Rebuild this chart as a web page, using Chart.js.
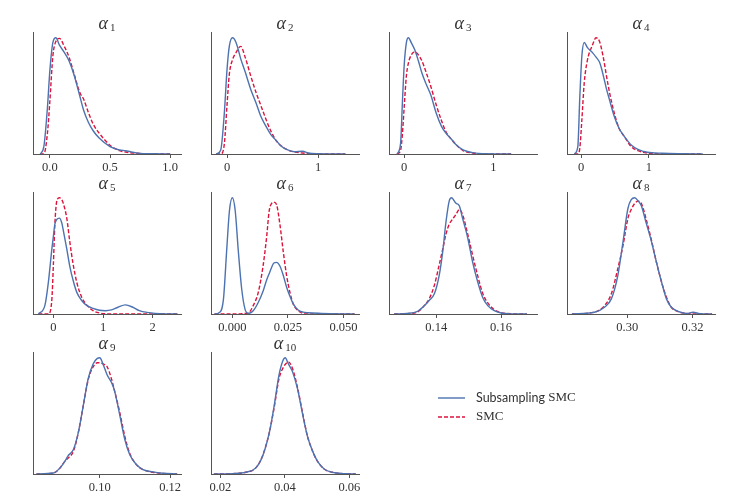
<!DOCTYPE html>
<html>
<head>
<meta charset="utf-8">
<script src="https://cdn.jsdelivr.net/npm/chart.js@4.4.1/dist/chart.umd.min.js"></script>
<style>
  html, body { margin: 0; padding: 0; background: #fff; }
  #fig { position: relative; width: 748px; height: 501px; overflow: hidden; }
  #fig canvas { position: absolute; }
</style>
</head>
<body>
<div id="fig"></div>
<script>
// subscripts of the alpha titles
const subscripts = ['1', '2', '3', '4', '5', '6', '7', '8', '9', '10'];

// x-axis limits per panel
const xLimits = [
  [-0.14, 1.09], [-0.176, 1.45], [-0.17, 1.49], [-0.21, 1.98], [-0.41, 2.57],
  [-0.0096, 0.057], [0.1254, 0.1711], [0.2815, 0.3269], [0.081, 0.1231], [0.0171, 0.063]
];

// tick labels per panel
const tickLabels = [
  ['0.0', '0.5', '1.0'], ['0', '1'], ['0', '1'], ['0', '1'], ['0', '1', '2'],
  ['0.000', '0.025', '0.050'], ['0.14', '0.16'], ['0.30', '0.32'], ['0.10', '0.12'], ['0.02', '0.04', '0.06']
];

// x grid where the density curves were read
const xGrid = [
  [-0.08, -0.05, -0.02, 0.0, 0.025, 0.05, 0.08, 0.12, 0.16, 0.2, 0.25, 0.28, 0.32, 0.36, 0.41, 0.5, 0.58, 0.63, 0.67, 0.75, 0.85, 1.0],
  [-0.12, -0.07, -0.03, 0, 0.025, 0.06, 0.1, 0.15, 0.2, 0.26, 0.32, 0.37, 0.43, 0.48, 0.54, 0.59, 0.66, 0.74, 0.83, 0.89, 1.0, 1.3],
  [-0.08, -0.04, -0.02, 0, 0.025, 0.048, 0.08, 0.12, 0.16, 0.2, 0.25, 0.3, 0.36, 0.42, 0.47, 0.53, 0.58, 0.66, 0.77, 0.92, 1.2],
  [-0.1, -0.05, -0.02, 0.01, 0.045, 0.09, 0.17, 0.22, 0.27, 0.3, 0.34, 0.37, 0.42, 0.49, 0.56, 0.64, 0.74, 0.84, 0.98, 1.2, 1.5, 1.8],
  [-0.3, -0.17, -0.1, -0.03, 0, 0.03, 0.07, 0.12, 0.17, 0.2, 0.27, 0.33, 0.4, 0.47, 0.57, 0.67, 0.8, 0.93, 1.05, 1.17, 1.3, 1.45, 1.6, 1.73, 1.93, 2.15, 2.5],
  [-0.008, -0.006, -0.004, -0.0025, -0.0013, 0, 0.0013, 0.0027, 0.0042, 0.0057, 0.0072, 0.0094, 0.0117, 0.0139, 0.0154, 0.0166, 0.0177, 0.0187, 0.0199, 0.0214, 0.0229, 0.0244, 0.0259, 0.0274, 0.0296, 0.0319, 0.034, 0.04, 0.055],
  [0.127, 0.131, 0.134, 0.1363, 0.1378, 0.1394, 0.1409, 0.142, 0.143, 0.144, 0.1447, 0.1461, 0.1471, 0.1481, 0.1497, 0.1512, 0.1528, 0.1543, 0.1559, 0.1579, 0.16, 0.163, 0.168],
  [0.283, 0.2899, 0.293, 0.2951, 0.2971, 0.2987, 0.3002, 0.3012, 0.3023, 0.3033, 0.3043, 0.3058, 0.3074, 0.3089, 0.3105, 0.312, 0.3135, 0.3156, 0.3182, 0.3202, 0.3223, 0.326],
  [0.082, 0.0868, 0.0887, 0.0901, 0.091, 0.0925, 0.0939, 0.0953, 0.0967, 0.0981, 0.0993, 0.1, 0.1009, 0.1021, 0.1033, 0.1042, 0.1057, 0.1071, 0.1085, 0.1104, 0.1123, 0.1151, 0.1179, 0.122],
  [0.018, 0.0238, 0.0279, 0.031, 0.0331, 0.0352, 0.0367, 0.0382, 0.0393, 0.0401, 0.0411, 0.0424, 0.0439, 0.0455, 0.047, 0.0486, 0.0501, 0.0522, 0.0547, 0.0589, 0.062]
];

// Subsampling SMC densities (relative height)
const subsampling = [
  [0, 0.06, 0.38, 0.68, 0.91, 0.95, 0.89, 0.83, 0.76, 0.65, 0.47, 0.36, 0.26, 0.19, 0.13, 0.06, 0.033, 0.027, 0.018, 0.005, 0.002, 0],
  [0, 0.03, 0.33, 0.69, 0.88, 0.95, 0.91, 0.78, 0.67, 0.53, 0.415, 0.31, 0.224, 0.16, 0.11, 0.068, 0.035, 0.019, 0.022, 0.008, 0.002, 0],
  [0, 0.087, 0.415, 0.72, 0.91, 0.95, 0.91, 0.85, 0.76, 0.66, 0.566, 0.48, 0.333, 0.224, 0.17, 0.12, 0.077, 0.033, 0.011, 0.002, 0],
  [0, 0.06, 0.47, 0.80, 0.91, 0.87, 0.825, 0.79, 0.75, 0.70, 0.61, 0.54, 0.44, 0.306, 0.21, 0.142, 0.074, 0.038, 0.014, 0.006, 0.002, 0],
  [0, 0.07, 0.26, 0.53, 0.63, 0.73, 0.77, 0.78, 0.74, 0.68, 0.53, 0.39, 0.27, 0.178, 0.11, 0.07, 0.045, 0.03, 0.027, 0.033, 0.055, 0.074, 0.055, 0.027, 0.011, 0.002, 0],
  [0, 0.01, 0.12, 0.53, 0.84, 0.945, 0.84, 0.51, 0.205, 0.04, 0.005, 0.027, 0.096, 0.19, 0.275, 0.33, 0.38, 0.415, 0.42, 0.39, 0.315, 0.22, 0.145, 0.082, 0.033, 0.015, 0.01, 0.005, 0],
  [0, 0.005, 0.019, 0.068, 0.11, 0.164, 0.315, 0.51, 0.75, 0.92, 0.945, 0.90, 0.88, 0.78, 0.62, 0.425, 0.26, 0.137, 0.068, 0.027, 0.008, 0.001, 0],
  [0, 0.014, 0.055, 0.123, 0.315, 0.59, 0.86, 0.93, 0.945, 0.92, 0.88, 0.74, 0.59, 0.425, 0.26, 0.123, 0.055, 0.022, 0.005, 0.014, 0.002, 0],
  [0, 0.008, 0.05, 0.105, 0.15, 0.20, 0.34, 0.56, 0.78, 0.90, 0.945, 0.95, 0.90, 0.81, 0.75, 0.68, 0.48, 0.284, 0.16, 0.077, 0.036, 0.017, 0.006, 0],
  [0, 0.003, 0.014, 0.05, 0.146, 0.34, 0.56, 0.81, 0.92, 0.95, 0.90, 0.835, 0.70, 0.49, 0.31, 0.187, 0.105, 0.041, 0.014, 0.002, 0]
];

// SMC densities (relative height)
const smc = [
  [0, 0, 0.17, 0.43, 0.80, 0.92, 0.945, 0.88, 0.79, 0.66, 0.50, 0.45, 0.34, 0.245, 0.17, 0.072, 0.027, 0.016, 0.01, 0.004, 0.001, 0],
  [0, 0, 0.08, 0.40, 0.65, 0.77, 0.83, 0.88, 0.79, 0.64, 0.50, 0.40, 0.28, 0.19, 0.11, 0.07, 0.035, 0.016, 0.008, 0.004, 0.001, 0],
  [0, 0.03, 0.16, 0.38, 0.64, 0.745, 0.81, 0.835, 0.81, 0.76, 0.66, 0.55, 0.40, 0.27, 0.18, 0.12, 0.078, 0.028, 0.008, 0.001, 0],
  [0, 0, 0.05, 0.28, 0.58, 0.76, 0.893, 0.948, 0.92, 0.86, 0.75, 0.65, 0.50, 0.333, 0.21, 0.142, 0.06, 0.027, 0.008, 0.002, 0, 0],
  [0, 0, 0, 0.12, 0.40, 0.73, 0.92, 0.945, 0.93, 0.90, 0.78, 0.59, 0.40, 0.26, 0.137, 0.074, 0.027, 0.008, 0.002, 0, 0, 0, 0, 0, 0, 0, 0],
  [0, 0, 0, 0, 0, 0, 0, 0, 0.002, 0.004, 0.008, 0.068, 0.178, 0.40, 0.62, 0.84, 0.90, 0.91, 0.89, 0.73, 0.51, 0.315, 0.178, 0.082, 0.027, 0.005, 0, 0, 0],
  [0, 0.003, 0.014, 0.068, 0.123, 0.233, 0.40, 0.53, 0.65, 0.73, 0.76, 0.81, 0.85, 0.81, 0.65, 0.48, 0.31, 0.17, 0.09, 0.035, 0.012, 0.002, 0],
  [0, 0.014, 0.068, 0.164, 0.37, 0.56, 0.78, 0.85, 0.90, 0.918, 0.90, 0.77, 0.60, 0.425, 0.26, 0.137, 0.055, 0.019, 0.005, 0.001, 0, 0],
  [0, 0.008, 0.05, 0.105, 0.13, 0.187, 0.34, 0.56, 0.77, 0.876, 0.91, 0.91, 0.90, 0.876, 0.78, 0.68, 0.50, 0.31, 0.17, 0.077, 0.036, 0.014, 0.004, 0],
  [0, 0.003, 0.014, 0.05, 0.15, 0.34, 0.545, 0.78, 0.86, 0.895, 0.917, 0.86, 0.71, 0.50, 0.31, 0.187, 0.105, 0.041, 0.014, 0.002, 0]
];

const seriesNames = ['Subsampling SMC', 'SMC'];

const BLUE = '#4c72b0';
const RED = '#dc143c';
const AXIS = '#555555';
const TEXT = '#333333';
const SERIF = '"Liberation Serif", "DejaVu Serif", serif';
const SANS = 'Lato, "Open Sans", sans-serif';

// panel layout (axes box in page pixels)
const colLeft = [33, 211, 389, 567];
const rowTop = [32, 192, 352];
const boxW = 148, boxH = 122;
const padL = 14, padR = 14, padT = 20, axisH = 24;

Chart.defaults.font.family = SERIF;

const panelTitle = {
  id: 'panelTitle',
  afterDraw(chart, args, opts) {
    const { ctx, chartArea } = chart;
    ctx.save();
    ctx.fillStyle = TEXT;
    ctx.textBaseline = 'alphabetic';
    ctx.font = 'italic 18px ' + SERIF;
    const wA = ctx.measureText('α').width;
    ctx.font = '11px ' + SERIF;
    const wS = ctx.measureText(opts.sub).width;
    const gap = 2;
    const x0 = (chartArea.left + chartArea.right) / 2 - (wA + gap + wS) / 2;
    const y0 = chartArea.top - 3;
    ctx.font = 'italic 18px ' + SERIF;
    ctx.fillText('α', x0, y0);
    ctx.font = '11px ' + SERIF;
    ctx.fillText(opts.sub, x0 + wA + gap, y0 + 2);
    ctx.restore();
  }
};

const fig = document.getElementById('fig');

subscripts.forEach((sub, i) => {
  const row = Math.floor(i / 4), col = i % 4;
  const canvas = document.createElement('canvas');
  canvas.width = boxW + padL + padR;
  canvas.height = padT + boxH + axisH;
  canvas.style.left = (colLeft[col] - padL) + 'px';
  canvas.style.top = (rowTop[row] - padT) + 'px';
  fig.appendChild(canvas);

  const peak = Math.max(...subsampling[i], ...smc[i]);
  const labels = tickLabels[i];

  new Chart(canvas, {
    type: 'line',
    data: {
      datasets: [
        {
          label: seriesNames[0],
          data: xGrid[i].map((x, k) => ({ x: x, y: subsampling[i][k] })),
          borderColor: BLUE,
          borderWidth: 1.4,
          pointRadius: 0,
          cubicInterpolationMode: 'monotone'
        },
        {
          label: seriesNames[1],
          data: xGrid[i].map((x, k) => ({ x: x, y: smc[i][k] })),
          borderColor: RED,
          borderWidth: 1.4,
          borderDash: [4, 2],
          pointRadius: 0,
          cubicInterpolationMode: 'monotone'
        }
      ]
    },
    options: {
      responsive: false,
      animation: false,
      events: [],
      layout: { padding: { left: padL, right: padR, top: padT, bottom: 0 } },
      plugins: {
        legend: { display: false },
        tooltip: { enabled: false },
        panelTitle: { sub: sub }
      },
      scales: {
        x: {
          type: 'linear',
          min: xLimits[i][0],
          max: xLimits[i][1],
          afterBuildTicks: s => { s.ticks = labels.map(t => ({ value: parseFloat(t) })); },
          afterFit: s => { s.height = axisH; },
          ticks: {
            autoSkip: false,
            maxRotation: 0,
            padding: 2,
            color: TEXT,
            font: { size: 12.5, family: SERIF },
            callback: (v, idx) => labels[idx]
          },
          grid: { display: true, drawOnChartArea: false, drawTicks: true, tickLength: 4, color: AXIS },
          border: { color: AXIS, width: 1 }
        },
        y: {
          min: 0,
          max: peak * 1.05,
          afterFit: s => { s.width = 0; },
          ticks: { display: false },
          grid: { display: false },
          border: { color: AXIS, width: 1 }
        }
      }
    },
    plugins: [panelTitle]
  });
});

// legend
const mixedLegend = {
  id: 'mixedLegend',
  afterDraw(chart) {
    const ctx = chart.ctx;
    chart.data.datasets.forEach((ds, k) => {
      const y = 12 + k * 19;
      ctx.save();
      ctx.strokeStyle = ds.borderColor;
      ctx.lineWidth = ds.borderWidth;
      ctx.setLineDash(ds.borderDash || []);
      ctx.beginPath();
      ctx.moveTo(8, y);
      ctx.lineTo(35, y);
      ctx.stroke();
      ctx.setLineDash([]);
      ctx.fillStyle = TEXT;
      ctx.textBaseline = 'middle';
      let x = 46;
      ds.label.split(' ').forEach((word, w) => {
        ctx.font = (word === 'SMC' ? '13px ' + SERIF : '12.5px ' + SANS);
        const txt = (w > 0 ? ' ' : '') + word;
        ctx.fillText(txt, x, y);
        x += ctx.measureText(txt).width;
      });
      ctx.restore();
    });
  }
};

const legendCanvas = document.createElement('canvas');
legendCanvas.width = 170;
legendCanvas.height = 45;
legendCanvas.style.left = '430px';
legendCanvas.style.top = '386px';
fig.appendChild(legendCanvas);

new Chart(legendCanvas, {
  type: 'line',
  data: {
    datasets: [
      { label: seriesNames[0], data: [], borderColor: BLUE, borderWidth: 1.4 },
      { label: seriesNames[1], data: [], borderColor: RED, borderWidth: 1.4, borderDash: [4, 2] }
    ]
  },
  options: {
    responsive: false,
    animation: false,
    events: [],
    plugins: { legend: { display: false }, tooltip: { enabled: false } },
    scales: { x: { display: false }, y: { display: false } }
  },
  plugins: [mixedLegend]
});
</script>
</body>
</html>
